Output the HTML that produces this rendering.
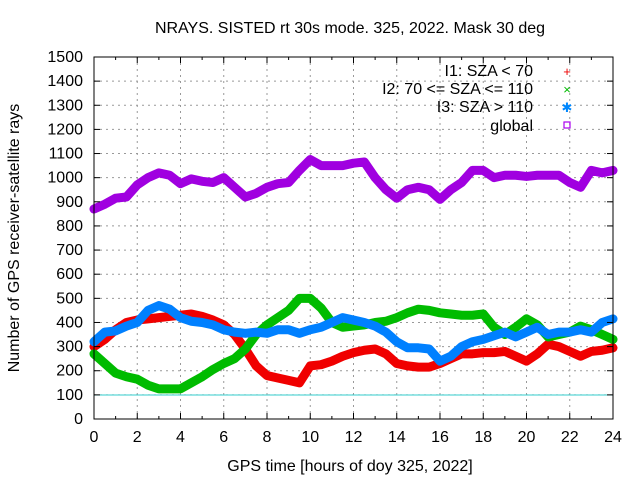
<!DOCTYPE html>
<html><head><meta charset="utf-8"><style>
body{margin:0;background:#fff}
svg{display:block;font-family:"Liberation Sans",sans-serif;font-size:16px}
</style></head><body>
<svg id="chart" width="640" height="480" viewBox="0 0 640 480">
<g id="grid"></g>
<line x1="94" x2="613" y1="395" y2="395" stroke="#3cc" stroke-width="1"/>
<g id="series"></g>
<rect x="94" y="57" width="519" height="362" fill="none" stroke="#000" stroke-width="1"/>
<g id="axes"></g>
<text x="350" y="33" text-anchor="middle">NRAYS. SISTED rt 30s mode. 325, 2022. Mask 30 deg</text>
<text x="350" y="471" text-anchor="middle">GPS time [hours of doy 325, 2022]</text>
<text transform="translate(19,238) rotate(-90)" text-anchor="middle">Number of GPS receiver-satellite rays</text>
<g>
<text x="533" y="76" text-anchor="end">I1: SZA &lt; 70</text>
<text x="533" y="94" text-anchor="end">I2: 70 &lt;= SZA &lt;= 110</text>
<text x="533" y="112" text-anchor="end">I3: SZA &gt; 110</text>
<text x="533" y="131" text-anchor="end">global</text>
<text x="567" y="76" text-anchor="middle" fill="#e00" font-size="13">+</text>
<text x="567" y="94" text-anchor="middle" fill="#0b0" font-size="13">×</text>
<text x="567" y="112" text-anchor="middle" fill="#08f" font-size="13">✱</text>
<rect x="564" y="122" width="6" height="6" fill="none" stroke="#a0e" stroke-width="1.2"/>
</g>
</svg>
<script>
const hours=[0,0.5,1,1.5,2,2.5,3,3.5,4,4.5,5,5.5,6,6.5,7,7.5,8,8.5,9,9.5,10,10.5,11,11.5,12,12.5,13,13.5,14,14.5,15,15.5,16,16.5,17,17.5,18,18.5,19,19.5,20,20.5,21,21.5,22,22.5,23,23.5,24];
const i1=[300,330,370,400,410,415,420,425,430,435,425,410,390,350,290,220,180,170,160,150,220,225,240,260,275,285,290,270,230,220,215,215,230,250,270,270,275,275,280,260,240,270,310,300,280,260,280,285,295];
const i2=[270,230,190,175,165,140,125,125,125,150,175,205,230,250,290,350,390,420,450,500,500,460,400,380,385,390,400,405,420,440,455,450,440,435,430,430,435,380,350,380,415,390,340,350,360,385,370,350,330];
const i3=[320,360,365,385,400,450,470,455,420,405,400,390,370,360,355,360,355,370,370,355,370,380,400,420,410,400,385,360,320,295,295,290,240,260,300,320,330,345,360,340,360,380,350,360,360,370,360,400,415];
const globalRays=[870,890,915,920,970,1000,1020,1010,975,995,985,980,1000,960,920,935,960,975,980,1030,1075,1050,1050,1050,1060,1065,1000,950,915,950,960,950,910,950,980,1030,1030,1000,1010,1010,1005,1010,1010,1010,980,960,1030,1020,1030];
const xTicks=[0,2,4,6,8,10,12,14,16,18,20,22,24];
const yTicks=[0,100,200,300,400,500,600,700,800,900,1000,1100,1200,1300,1400,1500];
const X=h=>94+h*519/24, Y=v=>419-v*362/1500;
const NS="http://www.w3.org/2000/svg";
function mk(tag,attrs,parent){const e=document.createElementNS(NS,tag);for(const k in attrs)e.setAttribute(k,attrs[k]);parent.appendChild(e);return e;}
const grid=document.getElementById('grid'),axes=document.getElementById('axes'),series=document.getElementById('series');
xTicks.forEach(t=>{
 const x=X(t);
 if(t>0&&t<24){const g=mk('line',{x1:x,x2:x,y1:57,y2:419,stroke:'#999','stroke-dasharray':'2,4'},grid);
 
 }
 const tl=mk('text',{x:x,y:442,'text-anchor':'middle'},axes);tl.textContent=t;
 
 
 mk('line',{x1:x,x2:x,y1:419,y2:413,stroke:'#000'},axes);
 mk('line',{x1:x,x2:x,y1:57,y2:63,stroke:'#000'},axes);
 if(t<24){const xm=X(t+1);mk('line',{x1:xm,x2:xm,y1:419,y2:416,stroke:'#000'},axes);mk('line',{x1:xm,x2:xm,y1:57,y2:60,stroke:'#000'},axes);}
});
yTicks.forEach(t=>{
 const y=Y(t);
 if(t>0&&t<1500){const g=mk('line',{x1:94,x2:613,y1:y,y2:y,stroke:'#999','stroke-dasharray':'2,4'},grid);
 
 }
 const tl=mk('text',{x:83,y:y+5,'text-anchor':'end'},axes);tl.textContent=t;
 
 
 mk('line',{x1:94,x2:100,y1:y,y2:y,stroke:'#000'},axes);
 mk('line',{x1:613,x2:607,y1:y,y2:y,stroke:'#000'},axes);
});
function draw(vals,color,name){
 const pts=hours.map((h,i)=>X(h)+','+Y(vals[i])).join(' ');
 const p=mk('polyline',{points:pts,fill:'none',stroke:color,'stroke-width':9,'stroke-linejoin':'round','stroke-linecap':'round'},series);
 
 
}
draw(globalRays,'#a000e0','series-global');
draw(i1,'#f00000','series-i1');
draw(i2,'#00bb00','series-i2');
draw(i3,'#0080ff','series-i3');
</script>
</body></html>
